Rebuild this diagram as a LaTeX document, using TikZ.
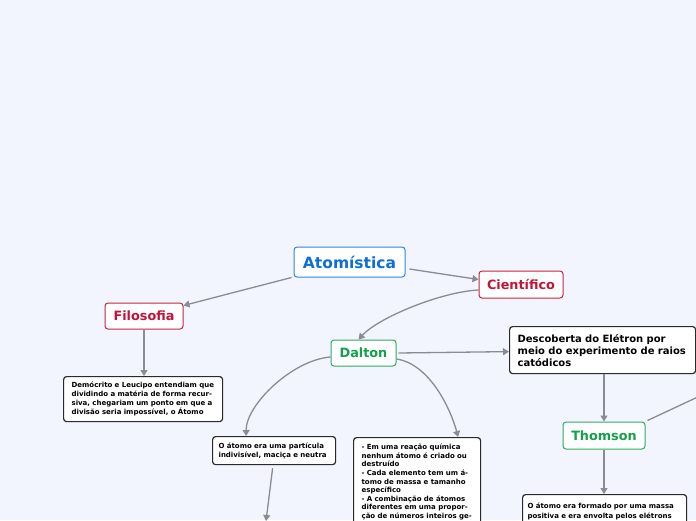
\documentclass[tikz,border=0pt]{standalone}
\usepackage{fontspec}
\setmainfont{DejaVu Sans}
\usetikzlibrary{arrows.meta,calc}
\definecolor{bgc}{HTML}{F2F5FE}
\definecolor{bluet}{HTML}{0C6FD9}
\definecolor{blueb}{HTML}{2A86E6}
\definecolor{redt}{HTML}{C21437}
\definecolor{redb}{HTML}{C8243F}
\definecolor{greent}{HTML}{14A04C}
\definecolor{greenb}{HTML}{2BAE5E}
\definecolor{linec}{HTML}{8A8C92}
\definecolor{boxb}{HTML}{2A2A2A}
\tikzset{
  topic/.style={draw, fill=white, rounded corners=3pt, line width=1pt, inner sep=0pt, font=\bfseries},
  maintopic/.style={topic, draw=blueb, text=bluet, font=\fontsize{15.5}{18}\selectfont\bfseries},
  redtopic/.style={topic, draw=redb, text=redt, font=\fontsize{12.8}{15}\selectfont\bfseries},
  greentopic/.style={topic, draw=greenb, text=greent, font=\fontsize{12.8}{15}\selectfont\bfseries},
  bodybox/.style={draw=boxb, fill=white, rounded corners=3pt, line width=1.2pt, align=left, anchor=north west, inner xsep=8pt, inner ysep=4pt, font=\fontsize{7}{9.2}\selectfont\bfseries},
  bigbody/.style={bodybox, font=\fontsize{10}{12}\selectfont\bfseries},
  conn/.style={draw=linec, line width=1.3pt, -{Triangle[length=6pt,width=7pt]}},
  plain/.style={draw=linec, line width=1.3pt}
}
\begin{document}
\begin{tikzpicture}[x=1pt,y=-1pt]
\clip (0,0) rectangle (696,520);
\fill[bgc] (0,0) rectangle (696,520);

\node[maintopic, minimum width=111pt, minimum height=30pt] (atom) at (349.5,262) {Atomística};
\node[redtopic, minimum width=84pt, minimum height=27pt] (cient) at (521,284.5) {Científico};
\node[redtopic, minimum width=78pt, minimum height=26pt] (filo) at (144,316) {Filosofia};
\node[greentopic, minimum width=65pt, minimum height=26pt] (dalton) at (363.5,353) {Dalton};
\node[greentopic, minimum width=82pt, minimum height=27pt] (thom) at (604,435.5) {Thomson};

\node[bodybox, text width=143pt, minimum height=45pt] (demo) at (63,376) {Demócrito e Leucipo entendiam que\\dividindo a matéria de forma recur-\\siva, chegariam um ponto em que a\\divisão seria impossível, o Átomo};

\node[bodybox, text width=111pt, inner xsep=6pt, minimum height=28pt] (oatom) at (212,436) {O átomo era uma partícula\\indivisível, maciça e neutra};

\node[bodybox, text width=111pt, inner ysep=6.5pt, font=\fontsize{7}{8.6}\selectfont\bfseries] (laws) at (353,437) {- Em uma reação química\\nenhum átomo é criado ou\\destruído\\- Cada elemento tem um á-\\tomo de massa e tamanho\\específico\\- A combinação de átomos\\diferentes em uma propor-\\ção de números inteiros ge-\\[4pt]};

\node[bigbody, text width=170pt, minimum height=47pt] (desc) at (509,326) {Descoberta do Elétron por\\meio do experimento de raios\\catódicos};

\node[bodybox, text width=154pt, inner xsep=5pt, inner ysep=8.5pt, font=\fontsize{7}{10}\selectfont\bfseries, text depth=16pt] (tdesc) at (522,494) {O átomo era formado por uma massa\\positiva e era envolta pelos elétrons};

\coordinate (oatomchild) at (266,521);
\coordinate (rightoff) at (702,395);

\draw[conn] ([xshift=4pt,yshift=-7pt]atom.east) -- ([yshift=5pt]cient.west);
\draw[conn] ([xshift=-2pt]atom.south west) -- ([yshift=-3pt]filo.north east);
\draw[conn] ([yshift=-5.5pt]cient.west) .. controls (440,292) and (378,318) .. ([xshift=-5pt]dalton.north);
\draw[conn] (filo.south) -- (filo.south |- demo.north);
\draw[conn] ([xshift=2pt]dalton.east) -- ([yshift=-1.5pt]desc.west);
\draw[conn] ([yshift=-4pt]dalton.west) .. controls (292,360) and (246,405) .. ([xshift=-28pt]oatom.north);
\draw[conn] ([yshift=-6pt]dalton.east) .. controls (430,364) and (451,410) .. ([xshift=41pt]laws.north);
\draw[conn] (thom.north |- desc.south) -- (thom.north);
\draw[conn] (thom.south) -- (thom.south |- tdesc.north);
\draw[conn] ([xshift=-1.5pt,yshift=-3pt]oatom.south) -- (oatomchild);
\draw[plain] ([xshift=2pt,yshift=1pt]thom.north east) -- (rightoff);
\end{tikzpicture}
\end{document}
